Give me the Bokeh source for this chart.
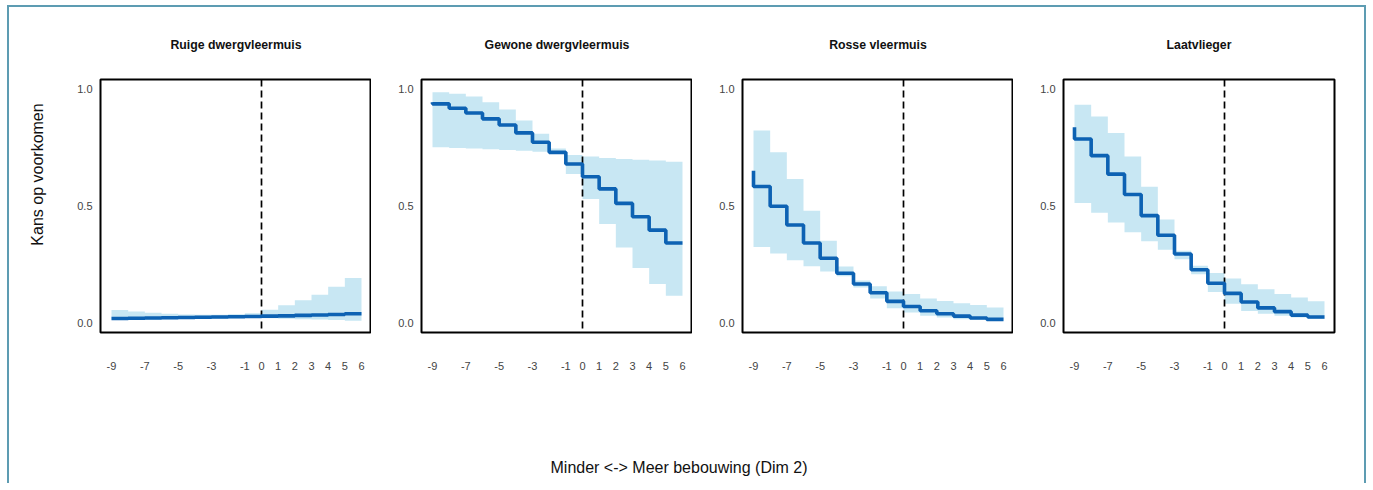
import math
from bokeh.plotting import figure
from bokeh.layouts import row, column
from bokeh.models import Range1d, FixedTicker, Span, Title, Div
from bokeh.core.properties import value
from bokeh.embed import file_html
from bokeh.resources import INLINE

# ---------------- data ----------------
species = ["Ruige dwergvleermuis", "Gewone dwergvleermuis", "Rosse vleermuis", "Laatvlieger"]
dim2 = [-9, -8, -7, -6, -5, -4, -3, -2, -1, 0, 1, 2, 3, 4, 5, 6]
x_ticks = [-9, -7, -5, -3, -1, 0, 1, 2, 3, 4, 5, 6]
x_tick_labels = ["-9", "-7", "-5", "-3", "-1", "0", "1", "2", "3", "4", "5", "6"]
y_ticks = [0.0, 0.5, 1.0]
y_tick_labels = ["0.0", "0.5", "1.0"]
threshold = 0

fit_ruige = [0.020, 0.020, 0.021, 0.022, 0.023, 0.024, 0.025, 0.026, 0.027, 0.028, 0.030, 0.031, 0.033, 0.035, 0.037, 0.040]
upper_ruige = [0.056, 0.056, 0.050, 0.044, 0.040, 0.037, 0.036, 0.036, 0.038, 0.042, 0.057, 0.076, 0.098, 0.121, 0.155, 0.193]
lower_ruige = [0.014, 0.014, 0.015, 0.016, 0.017, 0.018, 0.019, 0.020, 0.021, 0.022, 0.021, 0.019, 0.017, 0.015, 0.013, 0.010]

fit_gewone = [0.943, 0.936, 0.917, 0.897, 0.872, 0.846, 0.812, 0.772, 0.729, 0.679, 0.625, 0.573, 0.511, 0.454, 0.397, 0.342]
upper_gewone = [0.986, 0.986, 0.979, 0.967, 0.943, 0.912, 0.865, 0.808, 0.745, 0.718, 0.711, 0.705, 0.701, 0.697, 0.694, 0.689]
lower_gewone = [0.751, 0.751, 0.748, 0.745, 0.742, 0.739, 0.736, 0.732, 0.722, 0.637, 0.530, 0.423, 0.323, 0.235, 0.167, 0.117]

fit_rosse = [0.651, 0.583, 0.499, 0.419, 0.342, 0.277, 0.213, 0.167, 0.130, 0.093, 0.071, 0.053, 0.040, 0.030, 0.022, 0.016]
upper_rosse = [0.822, 0.822, 0.729, 0.615, 0.480, 0.352, 0.242, 0.182, 0.157, 0.135, 0.124, 0.105, 0.095, 0.085, 0.077, 0.067]
lower_rosse = [0.325, 0.325, 0.297, 0.268, 0.243, 0.220, 0.200, 0.152, 0.105, 0.064, 0.045, 0.031, 0.024, 0.017, 0.014, 0.010]

fit_laat = [0.836, 0.786, 0.715, 0.636, 0.549, 0.459, 0.375, 0.295, 0.228, 0.170, 0.127, 0.090, 0.065, 0.049, 0.034, 0.026]
upper_laat = [0.932, 0.932, 0.882, 0.812, 0.711, 0.582, 0.442, 0.309, 0.245, 0.214, 0.190, 0.166, 0.145, 0.124, 0.109, 0.093]
lower_laat = [0.513, 0.513, 0.471, 0.430, 0.388, 0.350, 0.313, 0.273, 0.209, 0.133, 0.083, 0.052, 0.040, 0.031, 0.024, 0.018]

y_label = "Kans op voorkomen"
x_label = "Minder <-> Meer bebouwing (Dim 2)"

series = [
    (fit_ruige, lower_ruige, upper_ruige),
    (fit_gewone, lower_gewone, upper_gewone),
    (fit_rosse, lower_rosse, upper_rosse),
    (fit_laat, lower_laat, upper_laat),
]

# ---------------- styling ----------------
FONT = "Liberation Sans"
LINE_COLOR = "#0d62b3"
BAND_COLOR = "#c8e7f3"
TICK_COLOR = "#444444"
TOP, FRAME_H, BOTTOM = 72, 253, 121
FIG_H = TOP + FRAME_H + BOTTOM
LABEL_W = 40

# narrow strip holding the shared y-axis title
lab = figure(frame_width=LABEL_W, frame_height=FIG_H, x_range=Range1d(0, LABEL_W),
             y_range=Range1d(0, FIG_H), x_axis_type=None, y_axis_type=None,
             min_border=0, toolbar_location=None, output_backend="svg")
lab.grid.visible = False
lab.outline_line_color = None
lab.text(x=[28], y=[FIG_H - 95], text=[y_label], angle=math.pi / 2,
         text_align="center", text_baseline="middle", text_font=value(FONT),
         text_font_size="16px", text_color="#111111")

figs = [lab]
for i, (name, (fit, lo, hi)) in enumerate(zip(species, series)):
    p = figure(
        frame_width=271, frame_height=FRAME_H,
        x_range=Range1d(-9.66, 6.6), y_range=Range1d(-0.04, 1.04),
        min_border_left=91 - LABEL_W if i == 0 else 50,
        min_border_right=30 if i == 3 else 0,
        min_border_top=TOP, min_border_bottom=BOTTOM,
        toolbar_location=None, output_backend="svg",
        background_fill_color="white", border_fill_color="white",
    )
    p.title = Title(text=name, align="center", text_font=FONT, text_font_size="12.3px",
                    text_font_style="bold", text_color="#111111", standoff=55)
    p.grid.visible = False
    p.outline_line_color = "black"
    p.outline_line_width = 2
    p.outline_line_alpha = 1

    for ax in (p.xaxis[0], p.yaxis[0]):
        ax.axis_line_color = None
        ax.major_tick_line_color = None
        ax.minor_tick_line_color = None
        ax.major_tick_in = 0
        ax.major_tick_out = 0
        ax.minor_tick_in = 0
        ax.minor_tick_out = 0
        ax.major_label_text_font = FONT
        ax.major_label_text_font_size = "11px"
        ax.major_label_text_color = TICK_COLOR

    p.xaxis.ticker = FixedTicker(ticks=x_ticks)
    p.xaxis.major_label_overrides = dict(zip(x_ticks, x_tick_labels))
    p.xaxis.major_label_standoff = 29
    p.yaxis.ticker = FixedTicker(ticks=y_ticks)
    p.yaxis.major_label_overrides = dict(zip(y_ticks, y_tick_labels))
    p.yaxis.major_label_standoff = 8

    p.varea_step(x=dim2, y1=lo, y2=hi, step_mode="before", fill_color=BAND_COLOR, fill_alpha=1)
    p.add_layout(Span(location=threshold, dimension="height", line_color="black",
                      line_width=1.7, line_dash="7 4"))
    p.step(x=dim2, y=fit, mode="before", line_color=LINE_COLOR, line_width=3.6, level="overlay")
    figs.append(p)

xlab = Div(text=x_label, width=1340, height=30, margin=0,
           styles={"text-align": "center", "font-family": FONT, "font-size": "16px",
                   "line-height": "30px", "color": "#111111"})

layout = column(row(*figs, margin=0), xlab, margin=(5, 0, 0, 7),
                styles={"border-left": "2px solid #5d9cb2", "border-top": "2px solid #5d9cb2",
                        "border-right": "2px solid #5d9cb2"})

open("out.html", "w").write(file_html(layout, INLINE))
